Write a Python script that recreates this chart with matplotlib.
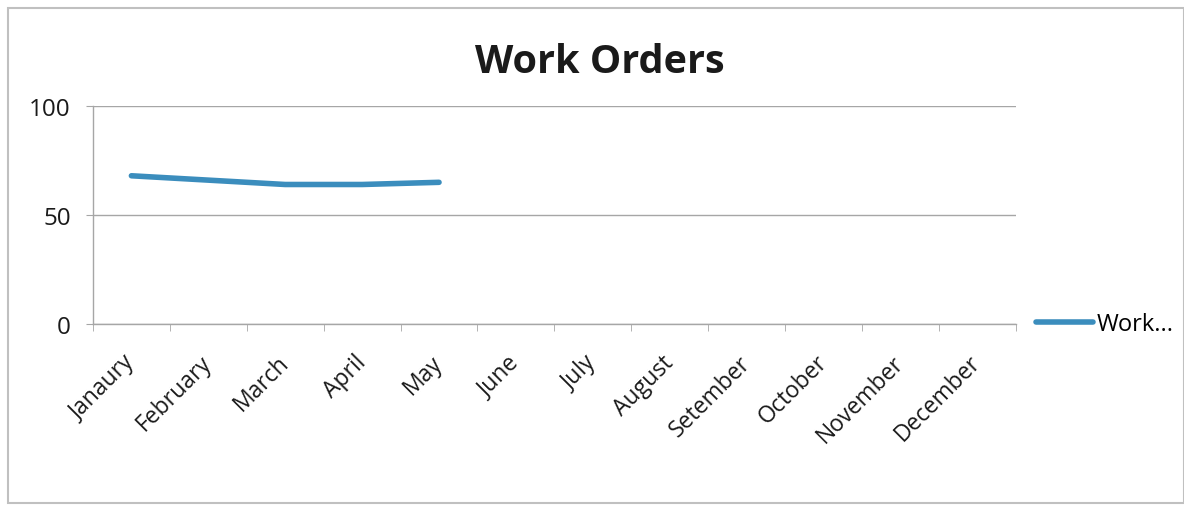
import numpy as np
import matplotlib.pyplot as plt
from matplotlib.patches import Rectangle

plt.rcParams['font.family'] = ['Open Sans', 'DejaVu Sans']

months = ["Janaury", "February", "March", "April", "May", "June", "July",
          "August", "Setember", "October", "November", "December"]
work_orders = [68, 66, 64, 64, 65, np.nan, np.nan, np.nan, np.nan, np.nan, np.nan, np.nan]
y_ticks = [0, 50, 100]

fig = plt.figure(figsize=(11.84, 5.06), dpi=100)
ax = fig.add_axes([0.0785, 0.3577, 0.7795, 0.4308])

x = np.arange(len(months))
ax.plot(x, work_orders, color="#3B8DBD", linewidth=4, solid_capstyle="round",
        label="Work...")

ax.set_xlim(-0.5, len(months) - 0.5)
ax.set_ylim(0, 100)
ax.set_yticks(y_ticks)
ax.set_yticklabels([str(v) for v in y_ticks], fontsize=17.5)

# category labels at centres, tick marks between categories
ax.set_xticks(x)
ax.set_xticklabels(months, rotation=45, ha="right", va="center",
                   rotation_mode="anchor", fontsize=16.5, color="#1a1a1a")
ax.set_xticks(np.arange(-0.5, len(months)), minor=True)
ax.tick_params(axis="x", which="major", length=0, pad=25)
ax.tick_params(axis="x", which="minor", length=5, color="#a6a6a6", direction="out")
ax.tick_params(axis="y", length=5, color="#a6a6a6", pad=11, labelcolor="#1a1a1a")

ax.grid(axis="y", color="#a6a6a6", linewidth=1)
ax.set_axisbelow(True)
for side in ["top", "right"]:
    ax.spines[side].set_visible(False)
for side in ["left", "bottom"]:
    ax.spines[side].set_color("#a6a6a6")
    ax.spines[side].set_linewidth(1)

fig.text(0.507, 0.877, "Work Orders", ha="center", va="center",
         fontsize=28.5, fontweight="bold", color="#1a1a1a")

ax.legend(loc="center left", bbox_to_anchor=(1.009, 0.0), frameon=False,
          fontsize=17, handlelength=2.4, handletextpad=0.15, borderpad=0)

# outer chart border
fig.patches.append(Rectangle((8 / 1184, 2 / 506), 1 - 8 / 1184, 1 - 11 / 506,
                             transform=fig.transFigure, fill=False,
                             edgecolor="#c0c0c0", linewidth=1.5))

fig.savefig("out.png", dpi=100)
